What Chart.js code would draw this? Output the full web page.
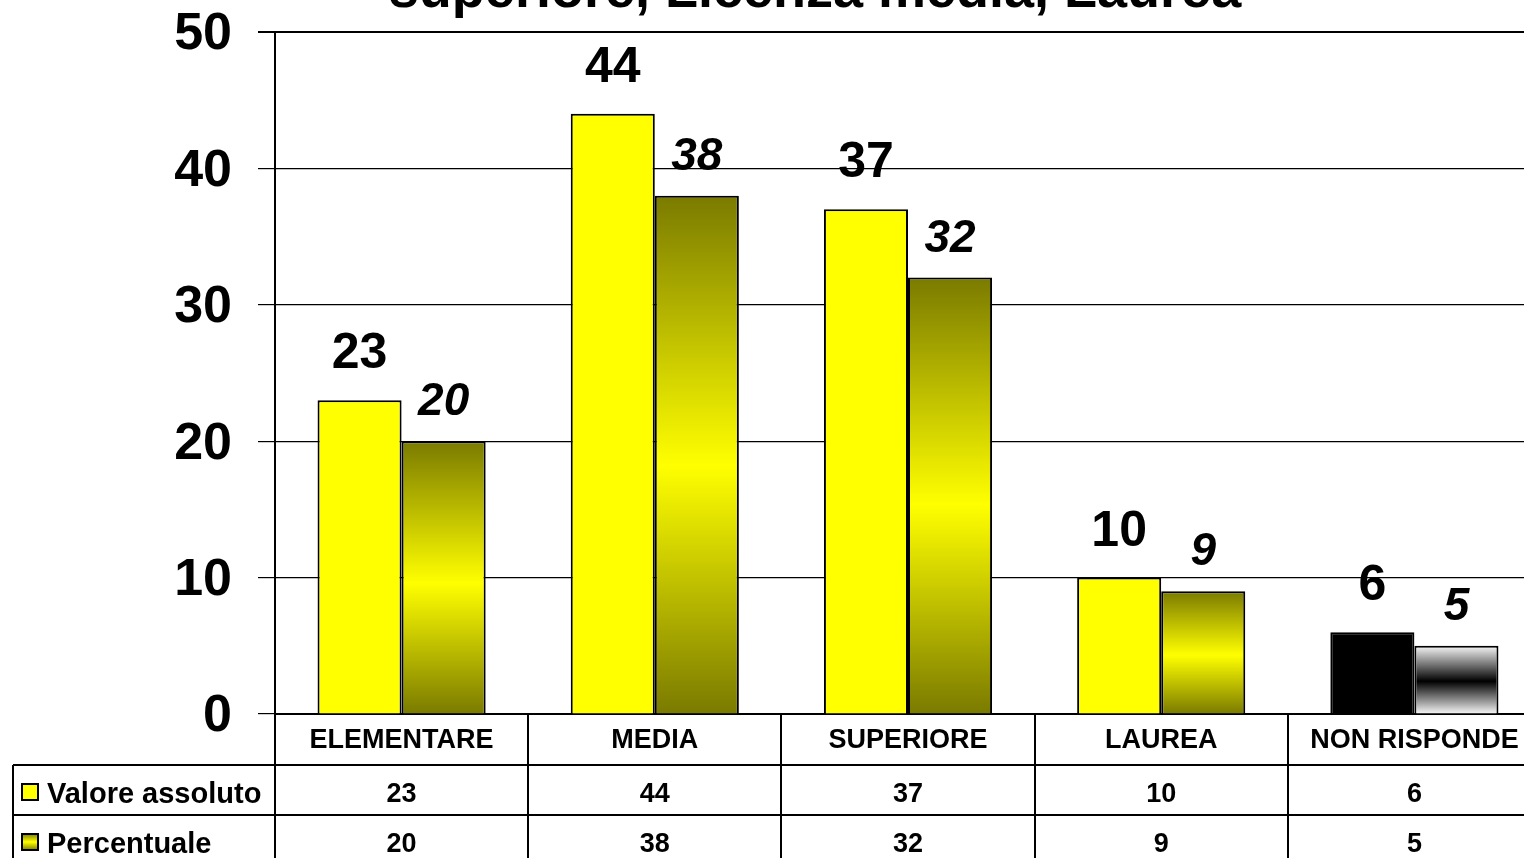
<!DOCTYPE html>
<html>
<head>
<meta charset="utf-8">
<script src="https://cdn.jsdelivr.net/npm/chart.js@4.4.1/dist/chart.umd.min.js"></script>
<style>
  html, body { margin: 0; padding: 0; background: #fff; overflow: hidden; }
  #wrap { position: absolute; left: 0; top: 0; width: 1541px; height: 858px; }
</style>
</head>
<body>
<div id="wrap"><canvas id="chart" width="1541" height="858"></canvas></div>
<script>
const categories = ['ELEMENTARE', 'MEDIA', 'SUPERIORE', 'LAUREA', 'NON RISPONDE'];
const valoreAssoluto = [23, 44, 37, 10, 6];
const percentuale = [20, 38, 32, 9, 5];
const seriesNames = ['Valore assoluto', 'Percentuale'];
const yTicks = [0, 10, 20, 30, 40, 50];
const titleText = 'superiore, Licenza media, Laurea';

const FONT = '"Liberation Sans", Arial, sans-serif';

function gradFill(ctx, dark, light) {
  const chart = ctx.chart;
  if (!chart.chartArea) return light;
  const y = chart.scales.y;
  const top = y.getPixelForValue(ctx.raw);
  const bottom = y.getPixelForValue(0);
  const g = chart.ctx.createLinearGradient(0, top, 0, bottom);
  g.addColorStop(0, dark);
  g.addColorStop(0.52, light);
  g.addColorStop(1, dark);
  return g;
}

// value labels above bars
const barLabels = {
  id: 'barLabels',
  afterDatasetsDraw(chart) {
    const c = chart.ctx;
    c.save();
    c.fillStyle = '#000';
    c.textAlign = 'center';
    c.textBaseline = 'alphabetic';
    chart.data.datasets.forEach((ds, i) => {
      const meta = chart.getDatasetMeta(i);
      c.font = i === 0 ? 'bold 50px ' + FONT : 'italic bold 46px ' + FONT;
      const gap = i === 0 ? 32 : 26;
      meta.data.forEach((el, j) => {
        c.fillText(String(ds.data[j]), el.x, el.y - gap);
      });
    });
    c.restore();
  }
};

// title (cut at top) and data table under the plot
const dataTable = {
  id: 'dataTable',
  afterDraw(chart) {
    const c = chart.ctx;
    const x = chart.scales.x;
    const area = chart.chartArea;
    const catW = (area.right - area.left) / categories.length;
    const rowH = [51, 50, 50];
    const y0 = area.bottom;
    const y1 = y0 + rowH[0];
    const y2 = y1 + rowH[1];
    const y3 = y2 + rowH[2];
    const tableLeft = 13;
    c.save();

    c.fillStyle = '#000';
    c.font = 'bold 54px ' + FONT;
    c.textAlign = 'center';
    c.textBaseline = 'alphabetic';
    c.fillText(titleText, 815, 7);

    // top edge of plot a bit heavier
    c.strokeStyle = '#000';
    c.lineWidth = 2;
    c.beginPath();
    c.moveTo(258, area.top); c.lineTo(area.right, area.top);
    c.stroke();

    c.beginPath();
    c.moveTo(tableLeft, y1); c.lineTo(area.right, y1);
    c.moveTo(tableLeft, y2); c.lineTo(area.right, y2);
    c.moveTo(tableLeft, y1); c.lineTo(tableLeft, y3);
    for (let i = 0; i <= categories.length; i++) {
      const vx = Math.round(area.left + i * catW);
      c.moveTo(vx, y0); c.lineTo(vx, y3);
    }
    c.stroke();

    c.textBaseline = 'middle';
    c.font = 'bold 27px ' + FONT;
    categories.forEach((cat, i) => {
      const cx = x.getPixelForValue(i);
      c.fillText(cat, cx, (y0 + y1) / 2 + 1);
      c.fillText(String(valoreAssoluto[i]), cx, (y1 + y2) / 2 + 5);
      c.fillText(String(percentuale[i]), cx, (y2 + y3) / 2 + 5);
    });

    // legend keys + names
    const rows = [(y1 + y2) / 2, (y2 + y3) / 2];
    rows.forEach((ry, i) => {
      const kx = 22, ky = Math.round(ry - 6);
      if (i === 0) {
        c.fillStyle = '#ffff00';
      } else {
        const g = c.createLinearGradient(0, ky, 0, ky + 16);
        g.addColorStop(0, '#7f7f00');
        g.addColorStop(0.5, '#ffff00');
        g.addColorStop(1, '#7f7f00');
        c.fillStyle = g;
      }
      c.fillRect(kx, ky, 16, 16);
      c.lineWidth = 2;
      c.strokeRect(kx, ky, 16, 16);
      c.fillStyle = '#000';
      c.textAlign = 'left';
      c.font = 'bold 29px ' + FONT;
      c.fillText(seriesNames[i], 47, ry + 5);
    });
    c.restore();
  }
};

new Chart(document.getElementById('chart'), {
  type: 'bar',
  data: {
    labels: categories,
    datasets: [{
      label: seriesNames[0],
      data: valoreAssoluto,
      backgroundColor: (ctx) => ctx.dataIndex === 4 ? '#000000' : '#ffff00',
      borderColor: '#000',
      borderWidth: 2,
      categoryPercentage: 0.664,
      barPercentage: 1
    }, {
      label: seriesNames[1],
      data: percentuale,
      backgroundColor: (ctx) => ctx.dataIndex === 4
        ? gradFill(ctx, '#f8f8f8', '#000000')
        : gradFill(ctx, '#7a7a00', '#ffff00'),
      borderColor: '#000',
      borderWidth: 2,
      categoryPercentage: 0.664,
      barPercentage: 1
    }]
  },
  options: {
    responsive: false,
    animation: false,
    layout: { padding: { top: 32, left: 0, right: 0, bottom: 0 } },
    plugins: {
      legend: { display: false },
      tooltip: { enabled: false },
      title: { display: false }
    },
    scales: {
      x: {
        offset: true,
        grid: { display: false },
        ticks: { display: false },
        border: { color: '#000', width: 2 },
        afterFit(scale) { scale.height = 144; }
      },
      y: {
        min: 0,
        max: 50,
        afterBuildTicks(scale) { scale.ticks = yTicks.map(v => ({ value: v })); },
        ticks: {
          color: '#000',
          padding: 26,
          labelOffset: 3,
          font: { family: FONT, size: 52, weight: 'bold' }
        },
        grid: { color: '#000', lineWidth: 1.2, tickLength: 17 },
        border: { color: '#000', width: 2 },
        afterFit(scale) {
          scale.width = 275;
          scale.paddingTop = 0;
          scale.paddingBottom = 0;
        }
      }
    }
  },
  plugins: [barLabels, dataTable]
});
</script>
</body>
</html>
